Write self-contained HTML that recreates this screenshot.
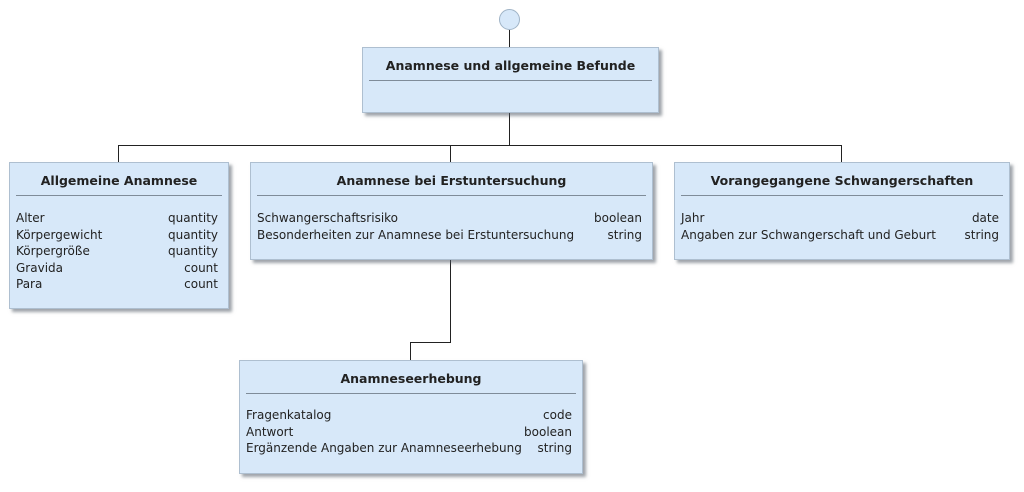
<!DOCTYPE html>
<html><head><meta charset="utf-8"><style>
body{margin:0;width:1024px;height:492px;background:#fff;position:relative;overflow:hidden;font-family:"DejaVu Sans",Verdana,sans-serif;color:#222}
.b{position:absolute;background:#d7e8f9;border:1px solid #aebfd0;box-shadow:3px 3px 3px rgba(80,90,100,.55);box-sizing:border-box}
.t{position:absolute;left:0;right:0;top:10px;text-align:center;font-weight:bold;font-size:12.5px}
.d{position:absolute;left:6px;right:6px;top:32px;border-top:1px solid #7f8c99}
.r{position:absolute;left:6px;right:10px;display:flex;justify-content:space-between;font-size:12px;line-height:16.5px;white-space:nowrap}
.l{position:absolute;background:#222}
</style></head><body>
<div style="position:absolute;left:499px;top:9px;width:21px;height:21px;border-radius:50%;background:#d7e8f9;border:1px solid #9fb3c6;box-sizing:border-box"></div>
<div class="l" style="left:509px;top:30px;width:1px;height:18px"></div>
<div class="l" style="left:509px;top:113px;width:1px;height:33px"></div>
<div class="l" style="left:118px;top:145px;width:724px;height:1px"></div>
<div class="l" style="left:118px;top:145px;width:1px;height:17px"></div>
<div class="l" style="left:450px;top:145px;width:1px;height:17px"></div>
<div class="l" style="left:841px;top:145px;width:1px;height:17px"></div>
<div class="l" style="left:450px;top:260px;width:1px;height:83px"></div>
<div class="l" style="left:410px;top:342px;width:41px;height:1px"></div>
<div class="l" style="left:410px;top:342px;width:1px;height:18px"></div>

<div class="b" style="left:362px;top:47px;width:297px;height:66px"><div class="t">Anamnese und allgemeine Befunde</div><div class="d"></div></div>

<div class="b" style="left:9px;top:162px;width:220px;height:147px"><div class="t">Allgemeine Anamnese</div><div class="d"></div>
<div class="r" style="top:47px"><span>Alter</span><span>quantity</span></div>
<div class="r" style="top:63.5px"><span>Körpergewicht</span><span>quantity</span></div>
<div class="r" style="top:80px"><span>Körpergröße</span><span>quantity</span></div>
<div class="r" style="top:96.5px"><span>Gravida</span><span>count</span></div>
<div class="r" style="top:113px"><span>Para</span><span>count</span></div></div>

<div class="b" style="left:250px;top:162px;width:403px;height:98px"><div class="t">Anamnese bei Erstuntersuchung</div><div class="d"></div>
<div class="r" style="top:47px"><span>Schwangerschaftsrisiko</span><span>boolean</span></div>
<div class="r" style="top:63.5px"><span>Besonderheiten zur Anamnese bei Erstuntersuchung</span><span>string</span></div></div>

<div class="b" style="left:674px;top:162px;width:336px;height:98px"><div class="t">Vorangegangene Schwangerschaften</div><div class="d"></div>
<div class="r" style="top:47px"><span>Jahr</span><span>date</span></div>
<div class="r" style="top:63.5px"><span>Angaben zur Schwangerschaft und Geburt</span><span>string</span></div></div>

<div class="b" style="left:239px;top:360px;width:344px;height:114px"><div class="t">Anamneseerhebung</div><div class="d"></div>
<div class="r" style="top:46px"><span>Fragenkatalog</span><span>code</span></div>
<div class="r" style="top:62.5px"><span>Antwort</span><span>boolean</span></div>
<div class="r" style="top:79px"><span>Ergänzende Angaben zur Anamneseerhebung</span><span>string</span></div></div>
</body></html>
